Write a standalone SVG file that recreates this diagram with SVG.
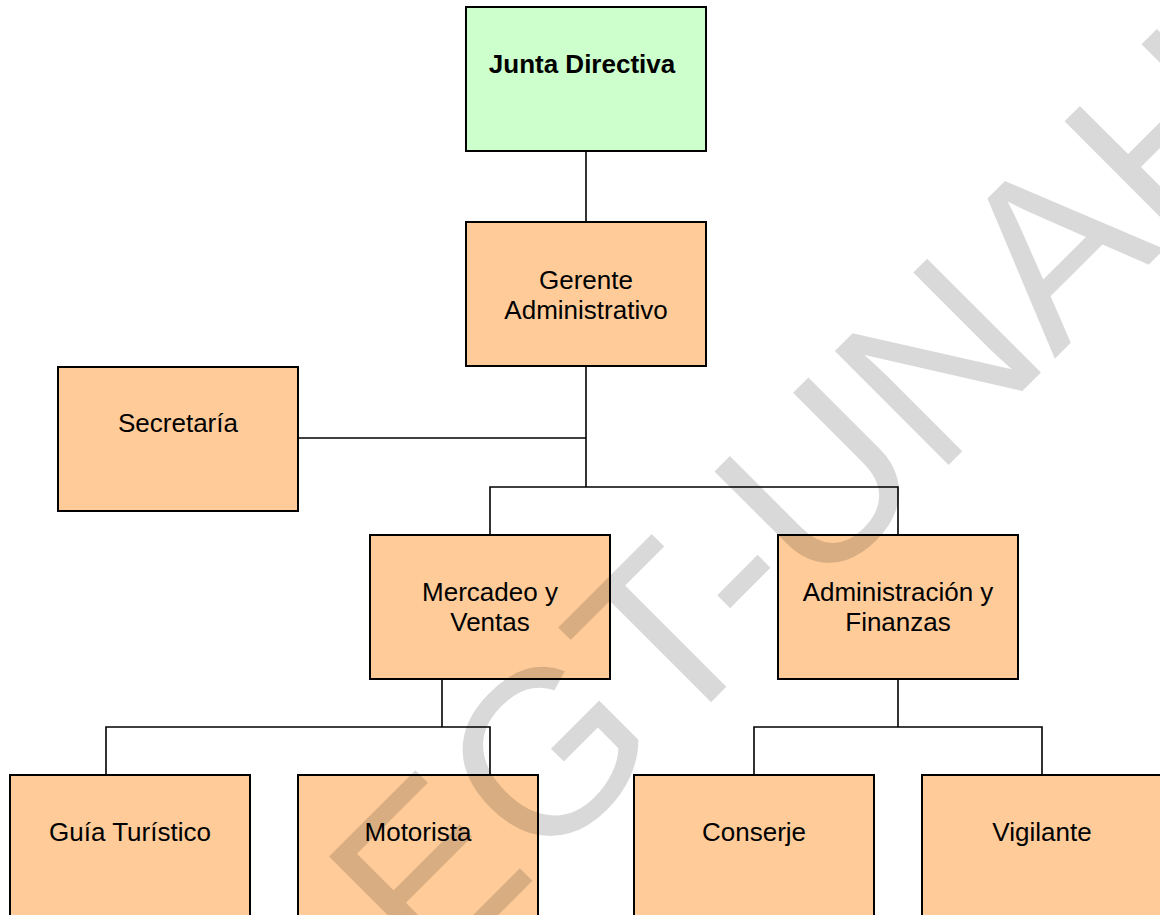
<svg xmlns="http://www.w3.org/2000/svg" width="1160" height="915" viewBox="0 0 1160 915">
<style>
.box{fill:#ffcc99;stroke:#000;stroke-width:2}
.top{fill:#ccffcc;stroke:#000;stroke-width:2}
.lbl{font-family:"Liberation Sans",Arial,sans-serif;font-size:26px;fill:#000;text-anchor:middle}
.bold{font-weight:bold}
.conn{stroke:#000;stroke-width:1.6;fill:none}
.wm{font-family:"Liberation Sans",Arial,sans-serif;font-size:234px;fill:#000;fill-opacity:0.15}
</style>
<rect width="1160" height="915" fill="#fff"/>
<g id="connectors">
<line class="conn" x1="586" y1="151" x2="586" y2="222"/>
<line class="conn" x1="586" y1="366" x2="586" y2="487"/>
<line class="conn" x1="298" y1="438" x2="586" y2="438"/>
<polyline class="conn" points="490,535 490,487 898,487 898,535"/>
<line class="conn" x1="442" y1="679" x2="442" y2="727"/>
<polyline class="conn" points="106,775 106,727 490,727 490,775"/>
<line class="conn" x1="898" y1="679" x2="898" y2="727"/>
<polyline class="conn" points="754,775 754,727 1042,727 1042,775"/>
</g>
<g id="junta">
<rect class="top" x="466" y="7" width="240" height="144"/>
<text class="lbl bold" x="582" y="73">Junta Directiva</text>
</g>
<g id="gerente">
<rect class="box" x="466" y="222" width="240" height="144"/>
<text class="lbl" x="586" y="289">Gerente</text>
<text class="lbl" x="586" y="319">Administrativo</text>
</g>
<g id="secretaria">
<rect class="box" x="58" y="367" width="240" height="144"/>
<text class="lbl" x="178" y="432">Secretaría</text>
</g>
<g id="mercadeo">
<rect class="box" x="370" y="535" width="240" height="144"/>
<text class="lbl" x="490" y="601">Mercadeo y</text>
<text class="lbl" x="490" y="631">Ventas</text>
</g>
<g id="administracion">
<rect class="box" x="778" y="535" width="240" height="144"/>
<text class="lbl" x="898" y="601">Administración y</text>
<text class="lbl" x="898" y="631">Finanzas</text>
</g>
<g id="guia">
<rect class="box" x="10" y="775" width="240" height="144"/>
<text class="lbl" x="130" y="841">Guía Turístico</text>
</g>
<g id="motorista">
<rect class="box" x="298" y="775" width="240" height="144"/>
<text class="lbl" x="418" y="841">Motorista</text>
</g>
<g id="conserje">
<rect class="box" x="634" y="775" width="240" height="144"/>
<text class="lbl" x="754" y="841">Conserje</text>
</g>
<g id="vigilante">
<rect class="box" x="922" y="775" width="240" height="144"/>
<text class="lbl" x="1042" y="841">Vigilante</text>
</g>
<g id="watermark">
<text class="wm" x="429.3" y="984.1" transform="rotate(-45 429.3 984.1)">EGT-UNAH</text>
</g>
</svg>
